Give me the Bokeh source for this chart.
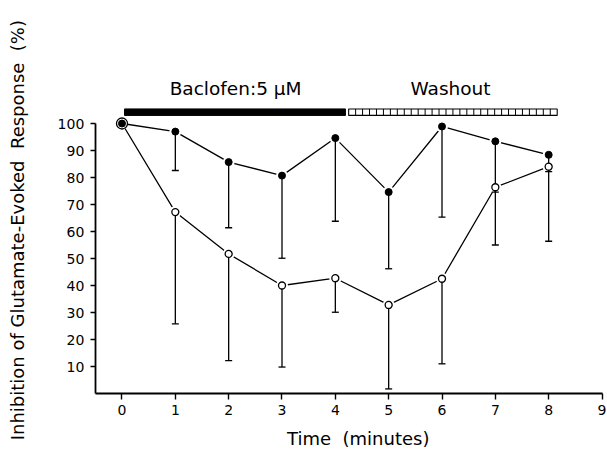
import numpy as np
from bokeh.plotting import figure
from bokeh.models import Range1d, FixedTicker, Label
from bokeh.core.properties import value
from bokeh.embed import file_html
from bokeh.resources import INLINE

# ---- data ----
time = [0, 1, 2, 3, 4, 5, 6, 7, 8]
filled_mean = [100, 97, 85.7, 80.7, 94.6, 74.6, 98.9, 93.4, 88.4]
filled_lower = [100, 82.6, 61.4, 50.1, 63.8, 46.2, 65.3, 74.6, 82.2]
open_mean = [100, 67.2, 51.7, 40, 42.7, 32.8, 42.5, 76.4, 84]
open_lower = [100, 25.8, 12.2, 9.8, 30.1, 1.7, 11, 55, 56.4]
x_ticks = [0, 1, 2, 3, 4, 5, 6, 7, 8, 9]
y_ticks = [10, 20, 30, 40, 50, 60, 70, 80, 90, 100]

FONT = "DejaVu Sans"
LW = 1.3
NB = "\u00a0"

p = figure(width=607, height=455, x_range=Range1d(-2.278, 9.103), y_range=Range1d(-22.96, 145.56),
           output_backend="svg", toolbar_location=None,
           min_border_left=0, min_border_right=0, min_border_top=0, min_border_bottom=0)
p.xgrid.visible = False
p.ygrid.visible = False
p.outline_line_color = None
p.background_fill_color = "white"
p.border_fill_color = "white"

for ax in (p.xaxis[0], p.yaxis[0]):
    ax.axis_line_width = 1.8
    ax.major_tick_line_width = 1.4
    ax.minor_tick_line_color = None
    ax.major_label_text_font = FONT
    ax.major_label_text_font_size = "14px"
    ax.major_label_text_color = "black"
    ax.major_tick_in = 0
    ax.major_tick_out = 6
    ax.major_label_standoff = 5

p.xaxis.ticker = FixedTicker(ticks=x_ticks)
p.xaxis.bounds = (-0.5, 9)
p.xaxis.fixed_location = 0
p.yaxis.ticker = FixedTicker(ticks=y_ticks)
p.yaxis.bounds = (0, 100)
p.yaxis.fixed_location = -0.5
p.yaxis.major_tick_out = 5
p.yaxis.major_label_standoff = 6

# connecting lines
p.line(time, filled_mean, line_color="black", line_width=LW)
p.line(time, open_mean, line_color="black", line_width=LW)

# white halos to give small gaps around markers
p.scatter(time, filled_mean, size=12, fill_color="white", line_color=None)
p.scatter(time, open_mean, size=12, fill_color="white", line_color=None)

# error bars (downward only)
p.segment(time[1:], filled_mean[1:], time[1:], filled_lower[1:], line_color="black", line_width=LW)
p.segment(time[1:], open_mean[1:], time[1:], open_lower[1:], line_color="black", line_width=LW)
p.scatter(time[1:], filled_lower[1:], marker="dash", size=7, line_color="black", line_width=LW)
p.scatter(time[1:], open_lower[1:], marker="dash", size=7, line_color="black", line_width=LW)

# markers
p.scatter(time[1:], open_mean[1:], size=7, fill_color="white", line_color="black", line_width=LW)
p.scatter(time[1:], filled_mean[1:], size=7, fill_color="black", line_color="black")
p.scatter(time[:1], open_mean[:1], size=11, fill_color="white", line_color="black", line_width=LW)
p.scatter(time[:1], filled_mean[:1], size=7, fill_color="black", line_color="black")

# treatment bars
p.quad(left=0.047, right=4.19, bottom=103.0, top=105.4, fill_color="black", line_color="black")
w_left, w_right = 4.25, 8.16
p.quad(left=w_left, right=w_right, bottom=103.0, top=105.4, fill_color="white",
       line_color="black", line_width=1.1)
div = np.linspace(w_left, w_right, 31)[1:-1]
p.segment(div, [103.0] * len(div), div, [105.4] * len(div), line_color="black", line_width=1)

p.add_layout(Label(x=2.13, y=113, text="Baclofen:5 μM", text_font=FONT, text_font_size="18.5px",
                   text_align="center", text_baseline="middle", text_color="black"))
p.add_layout(Label(x=6.16, y=113, text="Washout", text_font=FONT, text_font_size="18.5px",
                   text_align="center", text_baseline="middle", text_color="black"))

# axis titles
p.text(x=[4.43], y=[-16.7], text=["Time" + NB + NB + "(minutes)"], text_font=value(FONT),
       text_font_size="18px", text_align="center", text_baseline="middle", text_color="black")
p.text(x=[-1.96], y=[60.5], text=["Inhibition of Glutamate-Evoked" + NB + NB + "Response" + NB + NB + "(%)"],
       text_font=value(FONT), text_font_size="18px", angle=np.pi / 2, text_align="center",
       text_baseline="middle", text_color="black")

open("out.html", "w").write(file_html(p, INLINE))
